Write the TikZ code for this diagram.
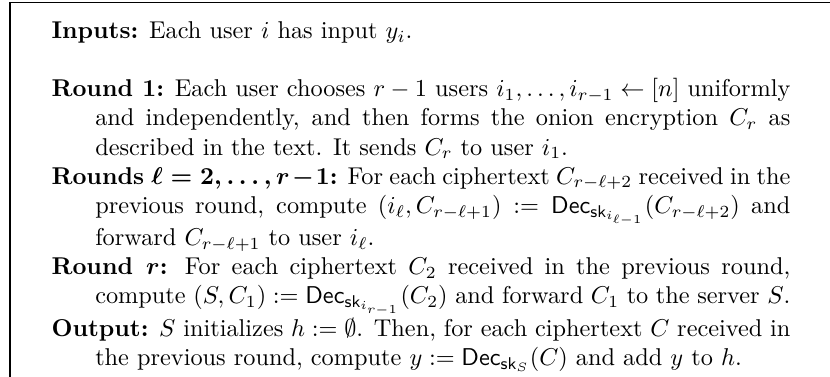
\documentclass[tikz,border=0pt]{standalone}
\usepackage{amsmath}
\usetikzlibrary{positioning}

% one protocol step: bold label, later lines hang in
\newcommand{\protostep}[1]{\noindent\hangindent=18pt\hangafter=1\textbf{\boldmath#1}}
\newcommand{\Dec}[1]{\mathsf{Dec}_{\mathsf{sk}_{#1}}}

\begin{document}
\begin{tikzpicture}[
    frm/.style={draw=black,line width=0.6pt},
    proto/.style={anchor=north west,inner sep=0pt,text width=304pt,align=justify,font=\normalsize}]
  \useasboundingbox (0,0) rectangle (341.5pt,-155.1pt);
  % box, cut off at the right and at the bottom
  \coordinate (tl) at (4.1pt,-1pt);
  \coordinate (tr) at (341.5pt,-1pt);
  \coordinate (bl) at (4.1pt,-155.1pt);
  \draw[frm] (tr) -- (tl) -- (bl);
  \node[proto] (steps) at (21pt,-8.7pt) {\protostep{Inputs:} Each user $i$ has input $y_i$.\par
    \vspace{\baselineskip}%
    \protostep{Round 1:} Each user chooses $r-1$ users $i_1,\ldots,i_{r-1}\leftarrow[n]$ uniformly\linebreak
    and independently, and then forms the onion encryption $C_r$ as\linebreak
    described in the text. It sends $C_r$ to user $i_1$.\par
    \protostep{Rounds $\ell=2,\ldots,r-1$:} For each ciphertext $C_{r-\ell+2}$ received in the\linebreak
    previous round, compute $(i_\ell,C_{r-\ell+1}) := \Dec{i_{\ell-1}}(C_{r-\ell+2})$ and\linebreak
    forward $C_{r-\ell+1}$ to user $i_\ell$.\par
    \protostep{Round $r$:} For each ciphertext $C_2$ received in the previous round,\linebreak
    compute $(S,C_1) := \Dec{i_{r-1}}(C_2)$ and forward $C_1$ to the server $S$.\par
    \protostep{Output:} $S$ initializes $h:=\emptyset$. Then, for each ciphertext $C$ received in\linebreak
    the previous round, compute $y:=\Dec{S}(C)$ and add $y$ to $h$.\par};
\end{tikzpicture}
\end{document}
